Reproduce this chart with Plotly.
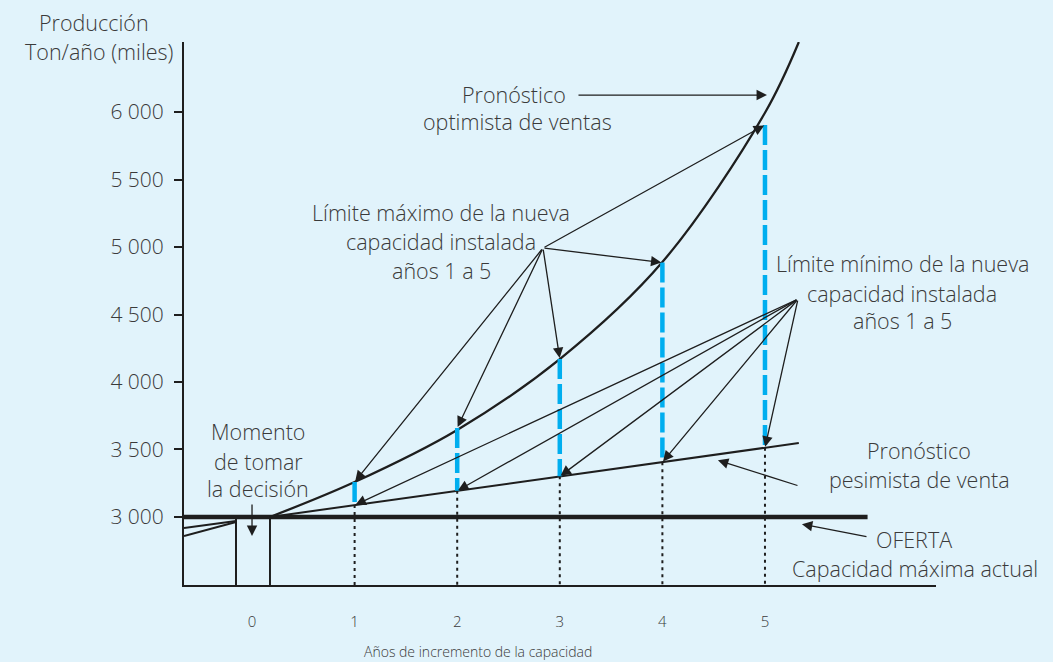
import plotly.graph_objects as go

# ---------------- data ----------------
years = [0, 1, 2, 3, 4, 5]
year_labels = ["0", "1", "2", "3", "4", "5"]
y_ticks = [3000, 3500, 4000, 4500, 5000, 5500, 6000]
y_tick_labels = ["3 000", "3 500", "4 000", "4 500", "5 000", "5 500", "6 000"]

oferta_y = [3000, 3000]
oferta_x = [-0.663, 6.0]

opt_x = [0.175, 1, 2, 3, 4, 5, 5.33]
opt_y = [3000, 3259, 3645, 4170, 4889, 5995, 6519]

pes_x = [0.175, 5.33]
pes_y = [3000, 3548]

cap_years = [1, 2, 3, 4, 5]
max_cap = [3259, 3660, 4170, 4885, 5904]
min_cap = [3088, 3194, 3301, 3406, 3513]

past_x = [-0.663, -0.156]
past_opt = [2919, 2970]
past_pes = [2859, 2963]

box_x = [-0.156, 0.175]
decision_x = 0.0

X_MIN, X_MAX = -0.663, 6.667
Y_MIN, Y_MAX = 2496, 6519

# ---------------- style ----------------
BG = "#E1F3FB"
INK = "#1e1e1e"
TXT = "#3a3a3a"
BLUE = "#00AEEF"
FONT = "Open Sans"
WEIGHT = 300
LABEL_SIZE = 21.5
L, R, T, B = 184, 117, 42, 77
W, H = 1053, 662
PW, PH = W - L - R, H - T - B


def X(px):
    return (px - 252) / 102.6


def Y(py):
    return 3000 + (517 - py) / 0.135


def PX(px):
    return (px - L) / PW


def PY(py):
    return (H - B - py) / PH


fig = go.Figure()


def line(xs, ys, width=2, color=INK, dash=None, shape="linear"):
    fig.add_trace(go.Scatter(
        x=xs, y=ys, mode="lines", cliponaxis=False, hoverinfo="skip",
        line=dict(color=color, width=width, dash=dash, shape=shape),
        showlegend=False))


# current capacity (OFERTA)
line(oferta_x, oferta_y, width=4.5)
# past trends
line(past_x, past_opt, width=2)
line(past_x, past_pes, width=2)
# decision box
for bx in box_x:
    line([bx, bx], [oferta_y[0], Y_MIN], width=2)
# forecasts
line(opt_x, opt_y, width=2.3, shape="spline")
line(pes_x, pes_y, width=2)
# dotted verticals
for yr, lo in zip(cap_years, min_cap):
    line([yr, yr], [lo, Y_MIN], width=2, dash="3px,4px")
# blue dashed capacity ranges
for yr, lo, hi in zip(cap_years, min_cap, max_cap):
    line([yr, yr], [hi, lo], width=4.5, color=BLUE, dash="20px,5px")

ann = []


def text(s, px, py, anchor="center", size=LABEL_SIZE):
    ann.append(dict(x=PX(px), y=PY(py), xref="paper", yref="paper", text=s,
                    showarrow=False, xanchor=anchor, yanchor="middle",
                    font=dict(family=FONT, size=size, color=TXT, weight=WEIGHT)))


def arrow(tx, ty, hx, hy):
    ann.append(dict(x=hx, y=hy, ax=tx, ay=ty, xref="x", yref="y",
                    axref="x", ayref="y", text="", showarrow=True,
                    arrowhead=2, arrowsize=1.6, arrowwidth=1.3,
                    arrowcolor=INK, standoff=1))


# labels
text("Producción", 94, 22)
text("Ton/año (miles)", 175, 52, anchor="right")

text("Pronóstico", 514, 95)
text("optimista de ventas", 517, 122)

for s, py in zip(["Límite máximo de la nueva", "capacidad instalada", "años 1 a 5"], [213, 242, 270]):
    text(s, 441, py)
for s, py in zip(["Límite mínimo de la nueva", "capacidad instalada", "años 1 a 5"], [263, 293, 320]):
    text(s, 902, py)
for s, py in zip(["Momento", "de tomar", "la decisión"], [432, 461, 488]):
    text(s, 258, py)
for s, py in zip(["Pronóstico", "pesimista de venta"], [450, 479]):
    text(s, 919, py)
text("OFERTA", 914, 539)
text("Capacidad máxima actual", 915, 568)

text("Años de incremento de la capacidad", 478, 651, size=14)

# arrows from "Límite máximo" to the optimistic capacity at years 1-5
max_src = (X(543), Y(248))
for yr, hi in zip(cap_years, max_cap):
    arrow(max_src[0], max_src[1], yr, hi)
# arrows from "Límite mínimo" to the pessimistic capacity at years 1-5
min_src = (X(798), Y(299))
for yr, lo in zip(cap_years, min_cap):
    arrow(min_src[0], min_src[1], yr, lo)

# label arrows
arrow(X(577), Y(95), X(768), Y(95))
arrow(X(799), Y(486), X(717), Y(460))
arrow(X(868), Y(537), X(801), Y(524))
arrow(decision_x, Y(503), decision_x, Y(537))

fig.update_layout(
    width=W, height=H,
    margin=dict(l=L, r=R, t=T, b=B),
    paper_bgcolor=BG, plot_bgcolor=BG,
    annotations=ann,
    font=dict(family=FONT, color=TXT, weight=WEIGHT),
    xaxis=dict(range=[X_MIN, X_MAX], showgrid=False, zeroline=False,
               showline=True, linewidth=2, linecolor=INK,
               tickvals=years, ticktext=year_labels, ticks="",
               tickfont=dict(family=FONT, size=15, color=TXT, weight=WEIGHT),
               ticklabelstandoff=22),
    yaxis=dict(range=[Y_MIN, Y_MAX], showgrid=False, zeroline=False,
               showline=True, linewidth=2, linecolor=INK,
               tickvals=y_ticks, ticktext=y_tick_labels,
               ticks="outside", ticklen=8, tickwidth=2, tickcolor=INK,
               tickfont=dict(family=FONT, size=21, color=TXT, weight=WEIGHT),
               ticklabelstandoff=6),
)

fig.write_html(
    "out.html",
    config={"displayModeBar": False},
    post_script="document.body.style.margin='0';document.body.style.background='" + BG + "';",
)
